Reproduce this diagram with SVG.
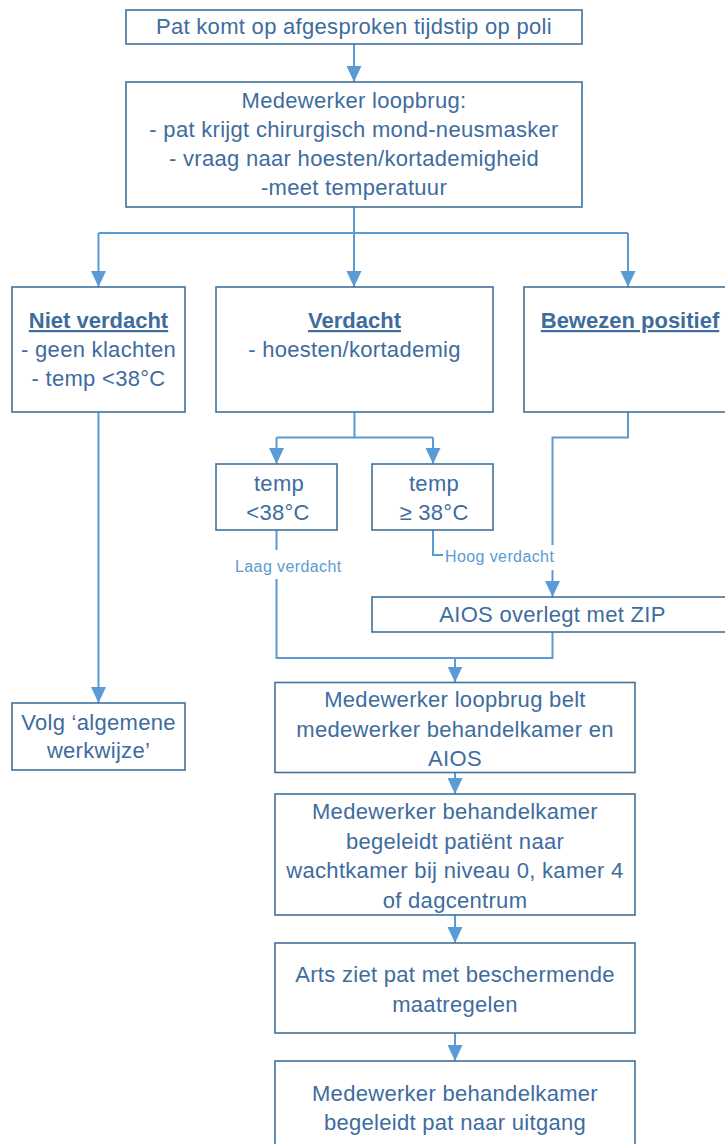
<svg xmlns="http://www.w3.org/2000/svg" width="725" height="1144" viewBox="0 0 725 1144">
<defs>
<marker id="arr" markerUnits="userSpaceOnUse" markerWidth="16" markerHeight="16" refX="16" refY="7.5" orient="auto" viewBox="0 0 16 15">
<path d="M0,0 L16,7.5 L0,15 z" fill="#5B9BD5"/>
</marker>
<style>
.box{fill:#fff;stroke:#41719C;stroke-width:1.6}
.t{font-family:"Liberation Sans",Arial,sans-serif;font-size:22px;letter-spacing:0.3px;fill:#3E6C9E;text-anchor:middle}
.b{font-weight:bold;text-decoration:underline;letter-spacing:0}
.s{font-family:"Liberation Sans",Arial,sans-serif;font-size:16px;letter-spacing:0.4px;fill:#5B9BD5}
.c{fill:none;stroke:#5B9BD5;stroke-width:2}
.ca{fill:none;stroke:#5B9BD5;stroke-width:2;marker-end:url(#arr)}
</style>
</defs>
<rect width="725" height="1144" fill="#fff"/>
<g id="connectors">
<path class="ca" d="M354,44 V82"/>
<path class="c" d="M354,207 V233 M98.5,233 H628"/>
<path class="ca" d="M98.5,233 V287"/>
<path class="ca" d="M354,233 V287"/>
<path class="ca" d="M628,233 V287"/>
<path class="ca" d="M98.5,412 V703"/>
<path class="c" d="M354.5,412 V437.5 M276.5,437.5 H433"/>
<path class="ca" d="M276.5,437.5 V464"/>
<path class="ca" d="M433,437.5 V464"/>
<path class="c" d="M433,530 V555 H443"/>
<path class="c" d="M628,412 V437.5 H552.5 V545"/>
<path class="ca" d="M552.5,570 V597"/>
<path class="c" d="M276.5,530 V550 M276.5,579 V658 H552.5 V632"/>
<path class="ca" d="M455,658 V682.5"/>
<path class="ca" d="M455,772.5 V794"/>
<path class="ca" d="M455,915 V943"/>
<path class="ca" d="M455,1033 V1061"/>
</g>
<g id="n1"><rect class="box" x="126" y="10" width="456" height="34"/>
<text class="t" x="354" y="34">Pat komt op afgesproken tijdstip op poli</text></g>
<g id="n2"><rect class="box" x="126" y="82" width="456" height="125"/>
<text class="t" x="354" y="108">Medewerker loopbrug:</text>
<text class="t" x="354" y="137">- pat krijgt chirurgisch mond-neusmasker</text>
<text class="t" x="354" y="166">- vraag naar hoesten/kortademigheid</text>
<text class="t" x="354" y="195">-meet temperatuur</text></g>
<g id="n3"><rect class="box" x="12" y="287" width="173" height="125"/>
<text class="t b" x="98.5" y="328">Niet verdacht</text>
<text class="t" x="98.5" y="357">- geen klachten</text>
<text class="t" x="98.5" y="386">- temp &lt;38°C</text></g>
<g id="n4"><rect class="box" x="216" y="287" width="277" height="125"/>
<text class="t b" x="354.5" y="328">Verdacht</text>
<text class="t" x="354.5" y="357">- hoesten/kortademig</text></g>
<g id="n5"><rect class="box" x="524" y="287" width="220" height="125"/>
<text class="t b" x="630" y="328">Bewezen positief</text></g>
<g id="n6"><rect class="box" x="216" y="464" width="121" height="66"/>
<text class="t" x="279" y="491">temp</text>
<text class="t" x="278" y="520">&lt;38°C</text></g>
<g id="n7"><rect class="box" x="372" y="464" width="121" height="66"/>
<text class="t" x="434" y="491">temp</text>
<text class="t" x="434" y="520">≥ 38°C</text></g>
<text class="s" x="445" y="562">Hoog verdacht</text>
<text class="s" x="235" y="572">Laag verdacht</text>
<g id="n8"><rect class="box" x="372" y="597" width="372" height="35"/>
<text class="t" x="552.5" y="622">AIOS overlegt met ZIP</text></g>
<g id="n9"><rect class="box" x="12" y="703" width="173" height="67"/>
<text class="t" x="98.5" y="730">Volg ‘algemene</text>
<text class="t" x="98.5" y="758">werkwijze’</text></g>
<g id="n10"><rect class="box" x="275" y="682.5" width="360" height="90"/>
<text class="t" x="455" y="707">Medewerker loopbrug belt</text>
<text class="t" x="455" y="737">medewerker behandelkamer en</text>
<text class="t" x="455" y="766">AIOS</text></g>
<g id="n11"><rect class="box" x="275" y="794" width="360" height="121"/>
<text class="t" x="455" y="819">Medewerker behandelkamer</text>
<text class="t" x="455" y="849">begeleidt patiënt naar</text>
<text class="t" x="455" y="878">wachtkamer bij niveau 0, kamer 4</text>
<text class="t" x="455" y="908">of dagcentrum</text></g>
<g id="n12"><rect class="box" x="275" y="943" width="360" height="90"/>
<text class="t" x="455" y="982">Arts ziet pat met beschermende</text>
<text class="t" x="455" y="1012">maatregelen</text></g>
<g id="n13"><rect class="box" x="275" y="1061" width="360" height="95"/>
<text class="t" x="455" y="1101">Medewerker behandelkamer</text>
<text class="t" x="455" y="1130">begeleidt pat naar uitgang</text></g>
</svg>
